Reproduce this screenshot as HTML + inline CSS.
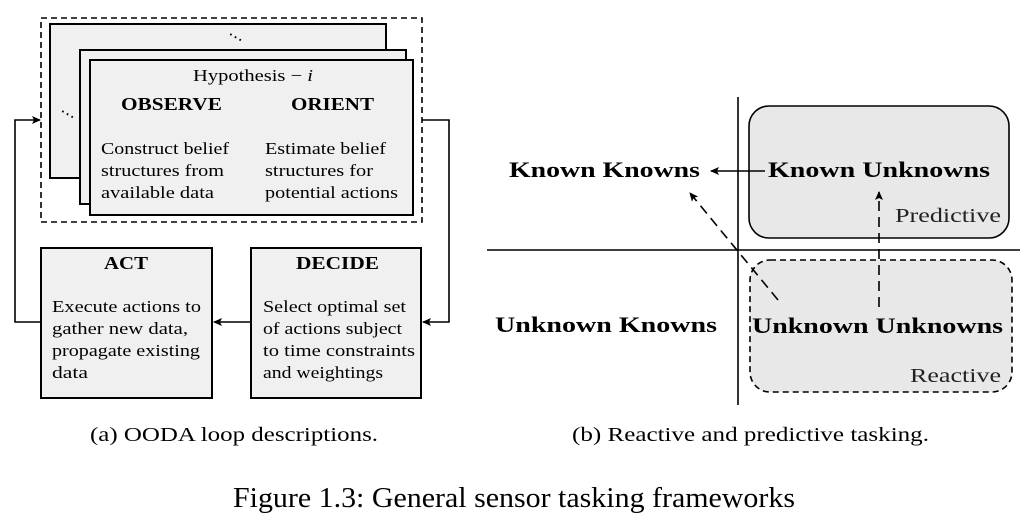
<!DOCTYPE html>
<html><head><style>
body{margin:0;background:#fff;}
svg{display:block;font-family:"Liberation Serif",serif;}
</style></head><body>
<svg width="1027" height="525" viewBox="0 0 1027 525" xmlns="http://www.w3.org/2000/svg">
<defs>
<marker id="ah" markerWidth="10" markerHeight="10" refX="8" refY="5" orient="auto" markerUnits="userSpaceOnUse">
<path d="M0,1 L9,5 L0,9 L2,5 Z" fill="#000"/></marker>
</defs>
<!-- (a) -->
<rect x="41" y="18" width="381" height="204" fill="none" stroke="#000" stroke-width="1.6" stroke-dasharray="6,4"/>
<rect x="50" y="24" width="336" height="154" fill="#f0f0f0" stroke="#000" stroke-width="2"/>
<rect x="80" y="50" width="326" height="154" fill="#f0f0f0" stroke="#000" stroke-width="2"/>
<rect x="90" y="60" width="323" height="155" fill="#f0f0f0" stroke="#000" stroke-width="2"/>
<rect x="41" y="248" width="171" height="150" fill="#f0f0f0" stroke="#000" stroke-width="2"/>
<rect x="251" y="248" width="170" height="150" fill="#f0f0f0" stroke="#000" stroke-width="2"/>
<text x="235" y="42" font-size="16" text-anchor="middle" transform="rotate(30 235 38)">⋯</text>
<text x="67" y="119" font-size="16" text-anchor="middle" transform="rotate(30 67 115)">⋯</text>
<g lengthAdjust="spacingAndGlyphs">
<text x="193" y="81" font-size="17" textLength="120" lengthAdjust="spacingAndGlyphs">Hypothesis − <tspan font-style="italic">i</tspan></text>
<g font-size="18" font-weight="bold">
<text x="121" y="110" textLength="101" lengthAdjust="spacingAndGlyphs">OBSERVE</text>
<text x="291" y="110" textLength="83" lengthAdjust="spacingAndGlyphs">ORIENT</text>
<text x="104" y="269" textLength="44" lengthAdjust="spacingAndGlyphs">ACT</text>
<text x="296" y="269" textLength="83" lengthAdjust="spacingAndGlyphs">DECIDE</text>
</g>
<g font-size="17">
<text x="101" y="154" textLength="128" lengthAdjust="spacingAndGlyphs">Construct belief</text>
<text x="101" y="176" textLength="123" lengthAdjust="spacingAndGlyphs">structures from</text>
<text x="101" y="198" textLength="113" lengthAdjust="spacingAndGlyphs">available data</text>
<text x="265" y="154" textLength="121" lengthAdjust="spacingAndGlyphs">Estimate belief</text>
<text x="265" y="176" textLength="108" lengthAdjust="spacingAndGlyphs">structures for</text>
<text x="265" y="198" textLength="133" lengthAdjust="spacingAndGlyphs">potential actions</text>
<text x="52" y="312" textLength="149" lengthAdjust="spacingAndGlyphs">Execute actions to</text>
<text x="52" y="334" textLength="136" lengthAdjust="spacingAndGlyphs">gather new data,</text>
<text x="52" y="356" textLength="148" lengthAdjust="spacingAndGlyphs">propagate existing</text>
<text x="52" y="378" textLength="36" lengthAdjust="spacingAndGlyphs">data</text>
<text x="263" y="312" textLength="143" lengthAdjust="spacingAndGlyphs">Select optimal set</text>
<text x="263" y="334" textLength="139" lengthAdjust="spacingAndGlyphs">of actions subject</text>
<text x="263" y="356" textLength="152" lengthAdjust="spacingAndGlyphs">to time constraints</text>
<text x="263" y="378" textLength="120" lengthAdjust="spacingAndGlyphs">and weightings</text>
</g>
</g>
<g fill="none" stroke="#000" stroke-width="1.6">
<path d="M41,322 H15 V120 H40" marker-end="url(#ah)"/>
<path d="M422,120 H449 V322 H423" marker-end="url(#ah)"/>
<path d="M251,322 H214" marker-end="url(#ah)"/>
</g>
<!-- (b) -->
<rect x="749" y="106" width="260" height="132" rx="20" fill="#e8e8e8" stroke="#000" stroke-width="1.6"/>
<rect x="750" y="260" width="262" height="132" rx="20" fill="#e8e8e8" stroke="#000" stroke-width="1.6" stroke-dasharray="6,4"/>
<line x1="738" y1="97" x2="738" y2="405" stroke="#000" stroke-width="1.6"/>
<line x1="487" y1="250" x2="1020" y2="250" stroke="#000" stroke-width="1.6"/>
<g fill="none" stroke="#000" stroke-width="1.6">
<path d="M765,171 H711" marker-end="url(#ah)"/>
<path d="M778,300 L690,193" stroke-dasharray="10,6" marker-end="url(#ah)"/>
<path d="M879,307 V192" stroke-dasharray="10,6" marker-end="url(#ah)"/>
</g>
<g font-size="22" font-weight="bold">
<text x="509" y="177" textLength="191" lengthAdjust="spacingAndGlyphs">Known Knowns</text>
<text x="768" y="177" textLength="222" lengthAdjust="spacingAndGlyphs">Known Unknowns</text>
<text x="495" y="332" textLength="222" lengthAdjust="spacingAndGlyphs">Unknown Knowns</text>
<text x="752" y="333" textLength="251" lengthAdjust="spacingAndGlyphs">Unknown Unknowns</text>
</g>
<g font-size="20" fill="#222">
<text x="895" y="222" textLength="106" lengthAdjust="spacingAndGlyphs">Predictive</text>
<text x="910" y="382" textLength="91" lengthAdjust="spacingAndGlyphs">Reactive</text>
</g>
<g font-size="20">
<text x="90" y="441" textLength="288" lengthAdjust="spacingAndGlyphs">(a)  OODA loop descriptions.</text>
<text x="572" y="441" textLength="357" lengthAdjust="spacingAndGlyphs">(b)  Reactive and predictive tasking.</text>
</g>
<text x="233" y="507" font-size="28" textLength="562" lengthAdjust="spacingAndGlyphs">Figure 1.3: General sensor tasking frameworks</text>
</svg>
</body></html>
